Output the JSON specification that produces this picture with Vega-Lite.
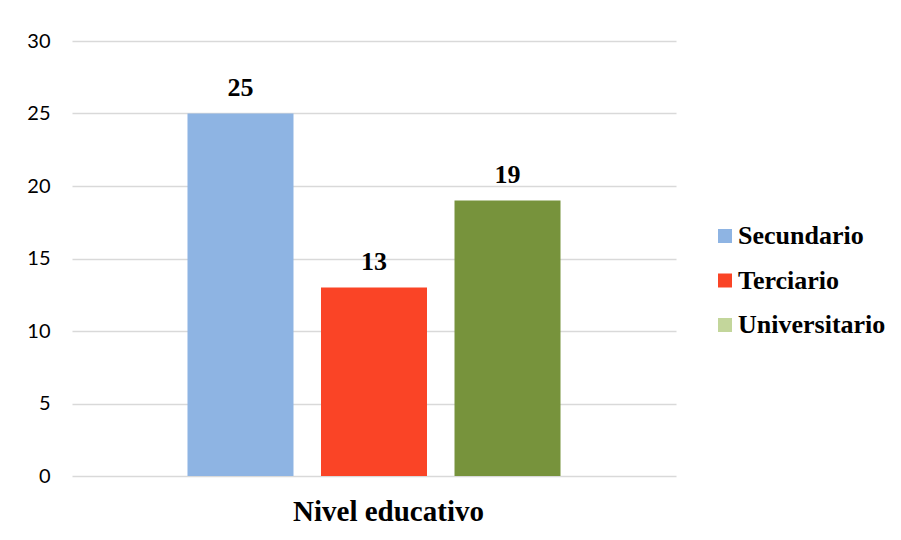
{
  "$schema": "https://vega.github.io/schema/vega-lite/v6.json",
  "width": 604,
  "height": 435,
  "autosize": {"type": "none"},
  "padding": {"left": 72, "top": 41, "right": 225, "bottom": 64},
  "background": "white",
  "config": {
    "view": {"stroke": null},
    "font": "Liberation Serif"
  },
  "data": {
    "values": [
      {"nivel": "Secundario", "cantidad": 25},
      {"nivel": "Terciario", "cantidad": 13},
      {"nivel": "Universitario", "cantidad": 19}
    ]
  },
  "encoding": {
    "x": {
      "field": "nivel",
      "type": "nominal",
      "sort": ["Secundario", "Terciario", "Universitario"],
      "scale": {"paddingInner": 0.206, "paddingOuter": 0.865},
      "axis": {
        "title": "Nivel educativo",
        "labels": false,
        "ticks": false,
        "domain": false,
        "titleFont": "Liberation Serif",
        "titleFontSize": 29,
        "titleFontWeight": "bold",
        "titleColor": "#000000",
        "titlePadding": 21,
        "titleX": 316,
        "titleAlign": "center"
      }
    },
    "y": {
      "field": "cantidad",
      "type": "quantitative",
      "scale": {"domain": [0, 30]},
      "axis": {
        "title": null,
        "values": [0, 5, 10, 15, 20, 25, 30],
        "domain": false,
        "ticks": false,
        "labelFont": "Lato",
        "labelFontSize": 20,
        "labelColor": "#000000",
        "labelPadding": 22,
        "gridColor": "#d9d9d9",
        "gridWidth": 1.5
      }
    }
  },
  "layer": [
    {
      "mark": {"type": "bar"},
      "encoding": {
        "fill": {
          "condition": {"test": "datum.nivel === 'Universitario'", "value": "#77933C"},
          "field": "nivel",
          "type": "nominal",
          "sort": ["Secundario", "Terciario", "Universitario"],
          "scale": {
            "domain": ["Secundario", "Terciario", "Universitario"],
            "range": ["#8EB4E3", "#FA4426", "#C3D69B"]
          },
          "legend": {
            "title": null,
            "orient": "none",
            "legendX": 640,
            "legendY": 182,
            "symbolType": "square",
            "symbolSize": 196,
            "symbolStrokeWidth": 0,
            "symbolOffset": 0,
            "labelFont": "Liberation Serif",
            "labelFontSize": 26,
            "labelFontWeight": "bold",
            "labelColor": "#000000",
            "labelOffset": 0,
            "rowPadding": 18.5,
            "labelLimit": 300
          }
        }
      }
    },
    {
      "mark": {
        "type": "text",
        "baseline": "alphabetic",
        "dy": -18,
        "font": "Liberation Serif",
        "fontSize": 26,
        "fontWeight": "bold",
        "color": "#000000"
      },
      "encoding": {
        "text": {"field": "cantidad", "type": "quantitative"}
      }
    }
  ]
}
